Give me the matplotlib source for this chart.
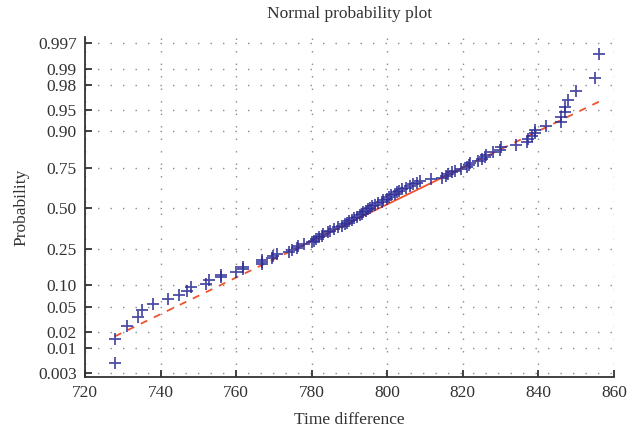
#!/usr/bin/env python3
# coding=utf-8

from statistics import NormalDist
import numpy as np
import matplotlib
matplotlib.use('Agg')
import matplotlib.pyplot as plt

# time differences, sorted
timeDiff = [727.9, 728.0, 731.0, 734.0, 735.0, 737.9, 742.0, 745.0, 747.1, 748.0,
            752.0, 752.9, 756.1, 756.1, 760.0, 761.9, 761.9, 766.9, 766.9, 766.9,
            769.4, 769.8, 770.7, 774.1, 774.7, 776.0, 776.4, 778.0, 780.0, 780.6,
            781.1, 782.0, 782.6, 783.1, 784.4, 784.8, 785.8, 787.0, 787.9, 788.8,
            789.4, 789.9, 790.6, 791.2, 791.9, 792.8, 793.2, 793.7, 794.5, 795.0,
            795.4, 795.9, 796.8, 797.6, 798.5, 798.9, 799.8, 800.5, 801.1, 802.0,
            802.5, 803.2, 803.8, 805.0, 806.0, 806.9, 807.9, 808.6, 811.7, 814.6,
            815.5, 816.2, 817.0, 817.9, 819.5, 821.0, 821.7, 821.9, 824.1, 825.0,
            825.8, 826.1, 828.0, 829.8, 830.0, 834.0, 837.0, 837.3, 838.2, 839.1,
            839.1, 842.0, 845.9, 846.1, 847.0, 847.0, 847.9, 849.9, 854.9, 856.0]

probTicks = [0.003, 0.01, 0.02, 0.05, 0.10, 0.25, 0.50, 0.75, 0.90, 0.95, 0.98, 0.99, 0.997]
probLabels = ['0.003', '0.01', '0.02', '0.05', '0.10', '0.25', '0.50', '0.75', '0.90', '0.95', '0.98', '0.99', '0.997']
xTicks = [720, 740, 760, 780, 800, 820, 840, 860]

nd = NormalDist()
x = np.sort(np.array(timeDiff))
n = len(x)
z = np.array([nd.inv_cdf((i - 0.5) / n) for i in range(1, n + 1)])

# reference line through the quartiles (like matlab normplot)
q1, q3 = np.percentile(x, [25, 75])
zq = nd.inv_cdf(0.75)
slope = 2 * zq / (q3 - q1)
mid = (q1 + q3) / 2
line = lambda xx: (xx - mid) * slope

plt.rcParams['font.family'] = ['Liberation Serif', 'DejaVu Serif']

fig = plt.figure(figsize=(6.36, 4.36), dpi=100)
ax = fig.add_axes([0.1336, 0.1353, 0.8318, 0.7798])

gridColor = '#8a8a8a'
for xt in xTicks:
    ax.axvline(xt, color=gridColor, linestyle=(0, (1, 8)), linewidth=1.0, zorder=0)
for pt in probTicks:
    ax.axhline(nd.inv_cdf(pt), color=gridColor, linestyle=(0, (1, 8)), linewidth=1.0, zorder=0)

lineColor = '#f0522c'
ax.plot([q1, q3], [line(q1), line(q3)], color=lineColor, linewidth=1.3, zorder=2)
ax.plot([x[0], q1], [line(x[0]), line(q1)], color=lineColor, linewidth=1.3, linestyle=(0, (4, 4)), zorder=2)
ax.plot([q3, x[-1]], [line(q3), line(x[-1])], color=lineColor, linewidth=1.3, linestyle=(0, (4, 4)), zorder=2)

ax.plot(x, z, linestyle='none', marker='+', markersize=8, markeredgewidth=1.3, color='#2e2e96', alpha=0.85, zorder=3)

ax.set_xlim(720, 860)
ax.set_ylim(-2.81, 2.855)
ax.set_xticks(xTicks)
ax.set_yticks([nd.inv_cdf(p) for p in probTicks])
ax.set_yticklabels(probLabels)

for side in ['top', 'right']:
    ax.spines[side].set_visible(False)
for side in ['left', 'bottom']:
    ax.spines[side].set_linewidth(1.3)
    ax.spines[side].set_color('#333333')
ax.tick_params(direction='in', length=5, width=1.3, color='#333333', labelsize=12.5, labelcolor='#333333', pad=6)

ax.set_title('Normal probability plot', fontsize=12.5, color='#333333', pad=14)
ax.set_xlabel('Time difference', fontsize=12.5, color='#333333', labelpad=8)
ax.set_ylabel('Probability', fontsize=12.5, color='#333333', labelpad=6)

fig.savefig('out.png', dpi=100)
